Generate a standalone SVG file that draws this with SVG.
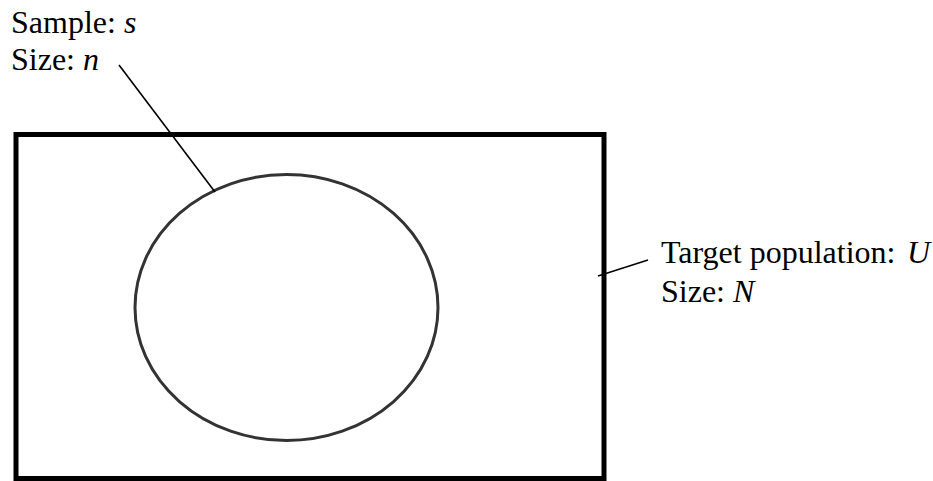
<svg xmlns="http://www.w3.org/2000/svg" width="933" height="481" viewBox="0 0 933 481">
<style>
.t{font-family:"Liberation Serif","Times New Roman",serif;font-size:32px;fill:#000}
.i{font-style:italic}
.lead{stroke:#000;stroke-width:1.6;fill:none}
</style>
<rect width="933" height="481" fill="#fff"/>
<g id="population">
<rect x="16" y="134.5" width="588" height="344" fill="#fff" stroke="#000" stroke-width="5"/>
</g>
<g id="sample">
<ellipse cx="286.5" cy="307.5" rx="151.5" ry="133" fill="none" stroke="#333" stroke-width="3"/>
</g>
<g id="connectors">
<line class="lead" x1="119" y1="65" x2="215" y2="192"/>
<line class="lead" x1="598" y1="276" x2="648" y2="260"/>
</g>
<g id="sample-label">
<text class="t" x="11" y="33">Sample: <tspan class="i">s</tspan></text>
<text class="t" x="11" y="70">Size: <tspan class="i">n</tspan></text>
</g>
<g id="population-label">
<text class="t" x="661" y="263">Target population: <tspan class="i" x="907">U</tspan></text>
<text class="t" x="661" y="302">Size: <tspan class="i">N</tspan></text>
</g>
</svg>
